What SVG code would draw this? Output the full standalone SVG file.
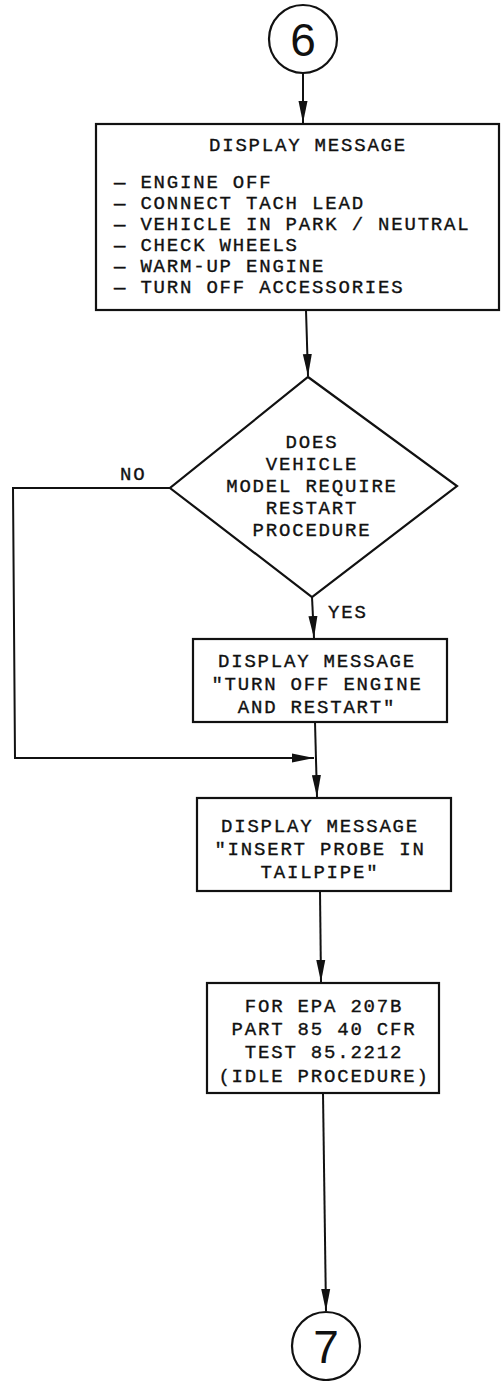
<svg xmlns="http://www.w3.org/2000/svg" width="501" height="1381" viewBox="0 0 501 1381">
<style>
.shape{fill:none;stroke:#111;stroke-width:2.2}
.conn{fill:none;stroke:#111;stroke-width:2}
.t{font-family:"Liberation Mono","Courier New",monospace;font-size:19px;letter-spacing:1.8px;fill:#111;stroke:#111;stroke-width:0.35}
.c{text-anchor:middle}
.num{font-family:"Liberation Sans",Arial,sans-serif;font-size:46px;fill:#111;text-anchor:middle}
</style>
<defs>
<marker id="arr" viewBox="0 0 22 10" refX="22" refY="5" markerWidth="22" markerHeight="10" markerUnits="userSpaceOnUse" orient="auto">
<path d="M0,0.5 L22,5 L0,9.5 Z" fill="#111"/>
</marker>
</defs>
<rect width="501" height="1381" fill="#fff"/>
<g id="connectors">
<line class="conn" x1="303" y1="73" x2="303" y2="123" marker-end="url(#arr)"/>
<line class="conn" x1="306" y1="310" x2="308" y2="376" marker-end="url(#arr)"/>
<polyline class="conn" points="170,488 13,488 15,758 314,758" marker-end="url(#arr)"/>
<line class="conn" x1="312" y1="597" x2="314" y2="638" marker-end="url(#arr)"/>
<line class="conn" x1="315" y1="722" x2="317" y2="797" marker-end="url(#arr)"/>
<line class="conn" x1="320" y1="891" x2="321" y2="982" marker-end="url(#arr)"/>
<line class="conn" x1="323" y1="1093" x2="326" y2="1311" marker-end="url(#arr)"/>
</g>
<g id="start6">
<circle class="shape" cx="303" cy="39" r="34"/>
<text class="num" x="303" y="56">6</text>
</g>
<g id="box1">
<rect class="shape" x="96" y="124" width="403" height="186"/>
<text class="t c" x="308" y="151">DISPLAY MESSAGE</text>
<text class="t" x="114" y="188">— ENGINE OFF</text>
<text class="t" x="114" y="209">— CONNECT TACH LEAD</text>
<text class="t" x="114" y="230">— VEHICLE IN PARK / NEUTRAL</text>
<text class="t" x="114" y="251">— CHECK WHEELS</text>
<text class="t" x="114" y="272">— WARM-UP ENGINE</text>
<text class="t" x="114" y="293">— TURN OFF ACCESSORIES</text>
</g>
<g id="decision">
<polygon class="shape" points="308,377 457,486 312,597 170,488"/>
<text class="t c" x="312" y="448">DOES</text>
<text class="t c" x="312" y="470">VEHICLE</text>
<text class="t c" x="312" y="492">MODEL REQUIRE</text>
<text class="t c" x="312" y="514">RESTART</text>
<text class="t c" x="312" y="536">PROCEDURE</text>
<text class="t" x="120" y="480">NO</text>
<text class="t" x="328" y="618">YES</text>
</g>
<g id="box2">
<rect class="shape" x="193" y="639" width="254" height="83"/>
<text class="t c" x="317" y="667">DISPLAY MESSAGE</text>
<text class="t c" x="317" y="690">"TURN OFF ENGINE</text>
<text class="t c" x="317" y="713">AND RESTART"</text>
</g>
<g id="box3">
<rect class="shape" x="197" y="798" width="254" height="93"/>
<text class="t c" x="320" y="832">DISPLAY MESSAGE</text>
<text class="t c" x="320" y="855">"INSERT PROBE IN</text>
<text class="t c" x="320" y="878">TAILPIPE"</text>
</g>
<g id="box4">
<rect class="shape" x="207" y="983" width="232" height="110"/>
<text class="t c" x="324" y="1012">FOR EPA 207B</text>
<text class="t c" x="324" y="1035">PART 85 40 CFR</text>
<text class="t c" x="324" y="1058">TEST 85.2212</text>
<text class="t c" x="324" y="1082">(IDLE PROCEDURE)</text>
</g>
<g id="end7">
<circle class="shape" cx="326" cy="1346" r="34"/>
<text class="num" x="326" y="1363">7</text>
</g>
</svg>
